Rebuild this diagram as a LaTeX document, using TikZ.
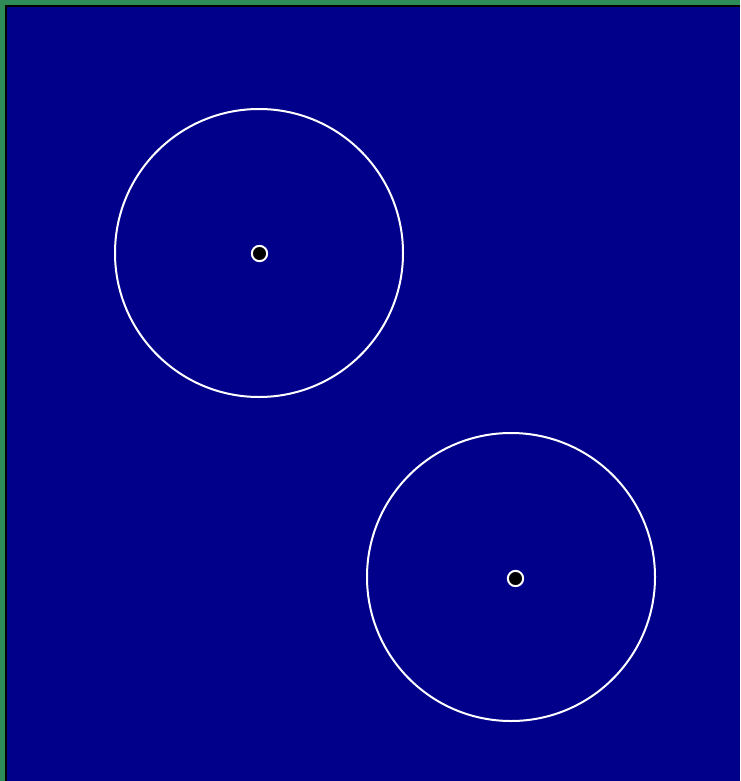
\documentclass[tikz,border=0pt]{standalone}
\definecolor{bordergreen}{HTML}{2E8B57}
\definecolor{bgblue}{HTML}{00008B}
\tikzset{
  ring/.style={draw=white, line width=1.5pt},
  centre/.style={circle, draw=white, fill=black, line width=1.5pt, minimum size=11.5pt, inner sep=0pt}
}
\begin{document}
\begin{tikzpicture}[x=0.75pt, y=-0.75pt]
  \useasboundingbox (0,0) rectangle (740,781);
  \fill[bordergreen] (0,0) rectangle (740,781);
  \fill[black] (5,5) rectangle (740,781);
  \fill[bgblue] (7,7) rectangle (740,781);
  \draw[ring] (259,253) circle[radius=144];
  \draw[ring] (511,577) circle[radius=144];
  \node[centre] (c1) at (259.5,253.5) {};
  \node[centre] (c2) at (515.5,578.5) {};
\end{tikzpicture}
\end{document}
